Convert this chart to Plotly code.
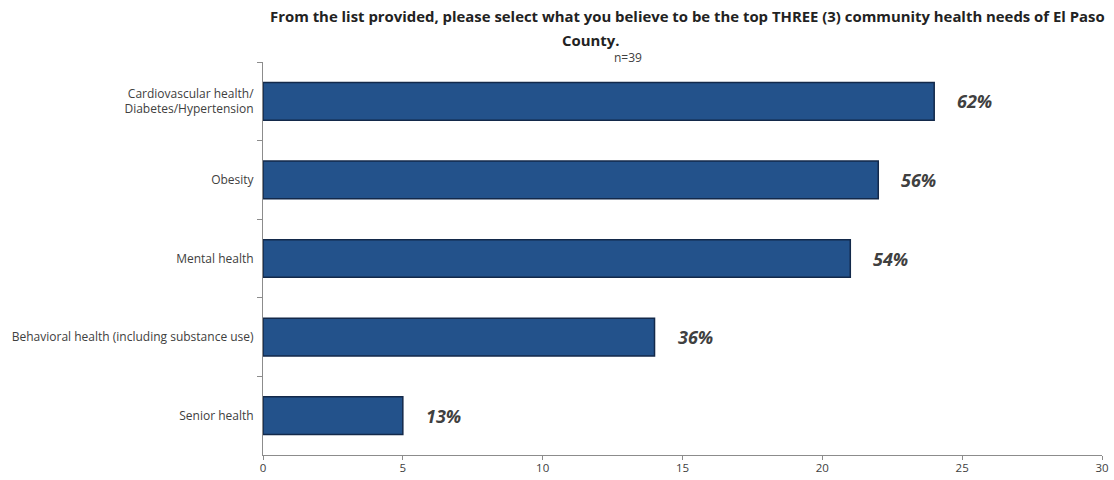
import plotly.graph_objects as go

# Responses (count of respondents, n=39) per community health need
categories = [
    "Cardiovascular health/<br>Diabetes/Hypertension",
    "Obesity",
    "Mental health",
    "Behavioral health (including substance use)",
    "Senior health",
]
counts = [24, 22, 21, 14, 5]
percent_labels = ["62%", "56%", "54%", "36%", "13%"]
x_ticks = [0, 5, 10, 15, 20, 25, 30]

title_line1 = "From the list provided, please select what you believe to be the top THREE (3) community health needs of El Paso"
title_line2 = "County."
subtitle = "n=39"

font_family = "Open Sans, Liberation Sans, Arial, sans-serif"
text_gray = "#404040"
axis_gray = "#8c8c8c"

fig = go.Figure()
fig.add_trace(go.Bar(
    x=counts,
    y=categories,
    orientation="h",
    width=0.48,
    marker=dict(color="#23528B", line=dict(color="#13294a", width=1.5)),
    hoverinfo="skip",
))

# Percentage labels to the right of each bar
for c, v, lab in zip(categories, counts, percent_labels):
    fig.add_annotation(
        x=v, y=c, text=lab, showarrow=False, xanchor="left", xshift=21,
        font=dict(family=font_family, size=18, color=text_gray, weight="bold", style="italic"),
    )

# Title lines
plot_w, plot_h = 839, 393
title_font = dict(family=font_family, size=14.9, color="#222222", weight="bold")
fig.add_annotation(x=(687 - 263) / plot_w, y=1 + (62 - 16) / plot_h, xref="paper", yref="paper",
                   text=title_line1, showarrow=False, font=title_font, xanchor="center", yanchor="middle")
fig.add_annotation(x=(590 - 263) / plot_w, y=1 + (62 - 40) / plot_h, xref="paper", yref="paper",
                   text=title_line2, showarrow=False, font=title_font, xanchor="center", yanchor="middle")
fig.add_annotation(x=(628 - 263) / plot_w, y=1 + (62 - 58) / plot_h, xref="paper", yref="paper",
                   text=subtitle, showarrow=False,
                   font=dict(family=font_family, size=12, color=text_gray),
                   xanchor="center", yanchor="middle")

fig.update_layout(
    width=1114, height=480,
    margin=dict(l=263, r=12, t=62, b=25, autoexpand=False),
    paper_bgcolor="white", plot_bgcolor="white",
    showlegend=False,
    bargap=0.52,
    xaxis=dict(
        range=[0, 30], tickvals=x_ticks, showgrid=False, zeroline=False,
        showline=True, linecolor=axis_gray, linewidth=1,
        ticks="outside", ticklen=4, tickcolor=axis_gray,
        tickfont=dict(family=font_family, size=11.5, color=text_gray),
        ticklabelstandoff=-2, automargin=False,
    ),
    yaxis=dict(
        autorange="reversed", showgrid=False,
        showline=True, linecolor=axis_gray, linewidth=1,
        ticks="outside", ticklen=5, tickcolor=axis_gray, tickson="boundaries",
        tickfont=dict(family=font_family, size=12, color=text_gray),
        ticklabelstandoff=6, automargin=False,
    ),
)

fig.write_html("out.html")
